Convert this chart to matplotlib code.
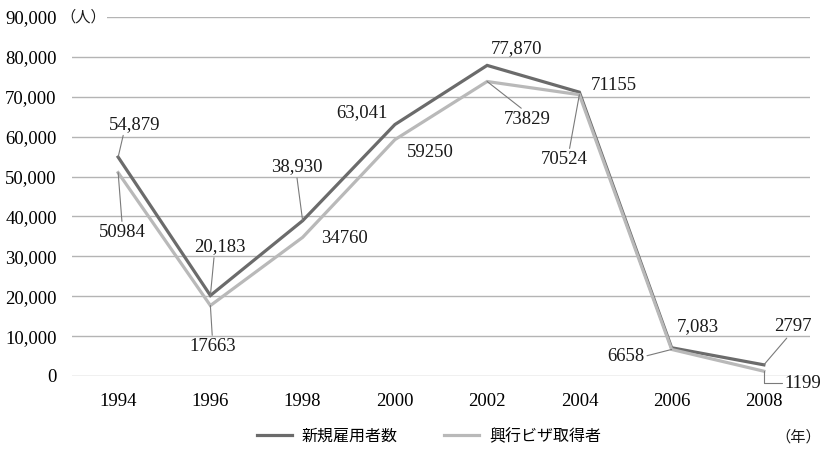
import matplotlib.pyplot as plt

plt.rcParams['font.family'] = ['Liberation Serif', 'Noto Sans CJK JP']

years = ['1994', '1996', '1998', '2000', '2002', '2004', '2006', '2008']
new_hires = [54879, 20183, 38930, 63041, 77870, 71155, 7083, 2797]
visa_holders = [50984, 17663, 34760, 59250, 73829, 70524, 6658, 1199]
new_hires_text = ['54,879', '20,183', '38,930', '63,041', '77,870', '71155', '7,083', '2797']
visa_text = ['50984', '17663', '34760', '59250', '73829', '70524', '6658', '1199']
yticks = [0, 10000, 20000, 30000, 40000, 50000, 60000, 70000, 80000, 90000]

dark = '#6b6b6b'
light = '#b9b9b9'

fig = plt.figure(figsize=(8.24, 4.51), dpi=100)
ax = fig.add_axes([0.0874, 0.1663, 0.8956, 0.796])

x = range(len(years))
ax.plot(x, new_hires, color=dark, lw=2.3, label='新規雇用者数', solid_joinstyle='miter')
ax.plot(x, visa_holders, color=light, lw=2.3, label='興行ビザ取得者', solid_joinstyle='miter')

ax.set_xlim(-0.5, len(years) - 0.5)
ax.set_ylim(0, 90000)
ax.set_xticks(list(x))
ax.set_xticklabels(years)
ax.set_yticks(yticks)
ax.set_yticklabels([f'{v:,}' for v in yticks])
ax.tick_params(length=0, labelsize=13.5)
ax.tick_params(axis='y', pad=11)
ax.tick_params(axis='x', pad=12)
for s in ax.spines.values():
    s.set_visible(False)
ax.grid(axis='y', color='#b4b4b4', lw=1.0)
ax.set_axisbelow(True)

# label offsets in pixels and where the leader line meets the text
dark_pos = [((16, 33), (0.3, 0)), ((9, 49), (0.4, 0)), ((-6, 54), (0.5, 0)),
            ((-33, 12), None), ((29, 17), None), ((34, 7), None),
            ((26, 21), None), ((29, 38), (0.4, 0))]
light_pos = [((4, -60), (0.5, 1)), ((2, -41), (0.5, 1)), ((42, -1), None),
             ((35, -13), None), ((40, -38), (0.45, 1)), ((-15, -65), (0.6, 1)),
             ((-46, -7), (1, 0.5)), ((39, -12), (0, 0.5))]

def label_series(vals, texts, pos):
    for i, (v, t, (off, rp)) in enumerate(zip(vals, texts, pos)):
        kw = {}
        if rp is not None:
            ap = dict(arrowstyle='-', color='#7a7a7a', lw=0.8, relpos=rp,
                      shrinkA=0, shrinkB=0)
            if i == len(vals) - 1 and rp == (0, 0.5):
                ap['connectionstyle'] = 'angle,angleA=0,angleB=90,rad=0'
            kw['arrowprops'] = ap
        ax.annotate(t, xy=(i, v), xytext=off, textcoords='offset pixels',
                    ha='center', va='center', fontsize=13.5, color='#1a1a1a', **kw)

label_series(new_hires, new_hires_text, dark_pos)
label_series(visa_holders, visa_text, light_pos)

fig.text(60 / 824, 1 - 17 / 451, '（人）', ha='left', va='center', fontsize=11,
         color='#1a1a1a', bbox=dict(facecolor='white', edgecolor='none', pad=1))
fig.text(775 / 824, 1 - 437 / 451, '（年）', ha='left', va='center', fontsize=11,
         color='#1a1a1a')

fig.legend(loc='center', bbox_to_anchor=(429 / 824, 1 - 437 / 451), ncol=2,
           frameon=False, fontsize=11.5, handlelength=2.2, handletextpad=0.6,
           columnspacing=2.9)

fig.savefig('out.png', dpi=100)
